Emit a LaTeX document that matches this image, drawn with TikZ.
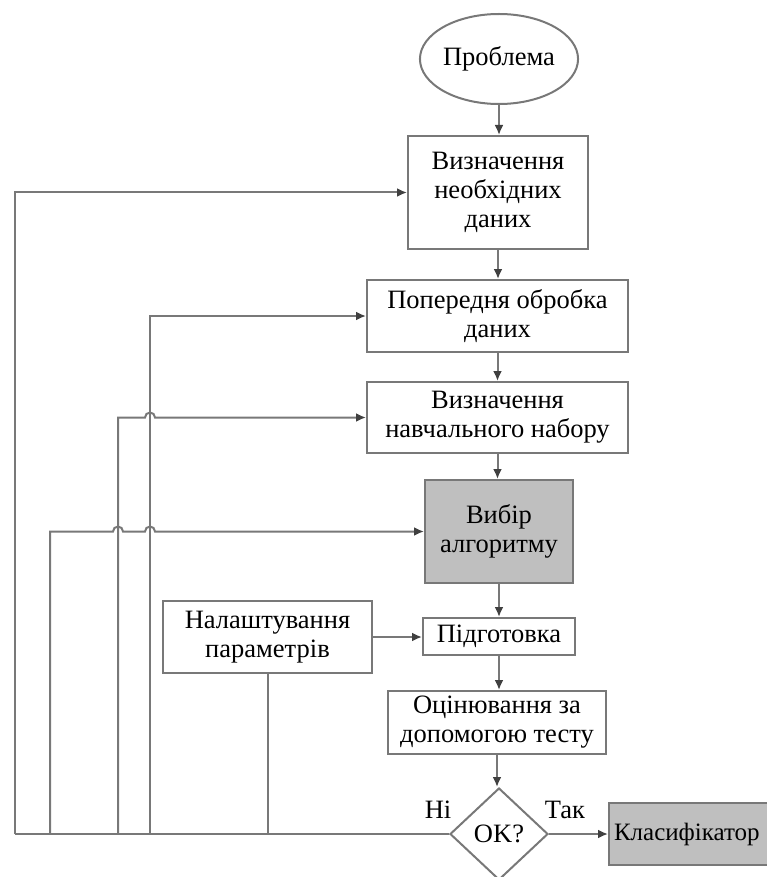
\documentclass[tikz,border=0pt]{standalone}
\usepackage{fontspec}
\setmainfont{Liberation Serif}
\usetikzlibrary{arrows.meta,shapes.geometric,calc}
\definecolor{LineClr}{rgb}{0.47,0.47,0.47}
\definecolor{BoxClr}{rgb}{0.75,0.75,0.75}

\begin{document}
\begin{tikzpicture}[x=1pt,y=-1pt,
  every node/.style={font=\fontsize{26.5}{29}\selectfont,align=center,inner sep=0pt},
  block/.style 2 args={draw=LineClr,line width=2pt,minimum width=#1pt,minimum height=#2pt},
  wire/.style={draw=LineClr,line width=2pt},
  flow/.style={wire,-{Latex[length=10pt,width=9pt,color=black!75]}}]
\useasboundingbox (0,0) rectangle (767,877);
\clip (0,0) rectangle (767,877);

% main column
\node[ellipse,draw=LineClr,line width=2pt,minimum width=146pt,minimum height=90pt] (Prob) at (499,59) {Проблема};
\node[block={180}{113}] (Need) at (498,192.5) {Визначення\\необхідних\\даних};
\node[block={261}{72}] (Prep) at (497.5,316) {Попередня обробка\\даних};
\node[block={261}{71}] (Train) at (497.5,417.5) {Визначення\\навчального набору};
\node[block={148}{103},fill=BoxClr] (Alg) at (499,531.5) {Вибір\\алгоритму};
\node[block={209}{72}] (Par) at (267.5,637) {Налаштування\\параметрів};
\node[block={152}{37}] (Fit) at (499,636.5) {Підготовка};
\node[block={218}{63}] (Test) at (497,722.5) {Оцінювання за\\допомогою тесту};
\node[diamond,draw=LineClr,line width=2pt,minimum width=98pt,minimum height=92pt] (OK) at (499,834) {OK?};
\node[draw=LineClr,line width=2pt,fill=BoxClr,anchor=west,inner xsep=5pt,minimum height=62pt,
  minimum width=180pt,text width=170pt,align=left,font=\fontsize{25}{29}\selectfont] (Cls) at (608,834) {Класифікатор};

\node (No) at (438,810) {Ні};
\node (Yes) at (565,810) {Так};

% feedback feet
\coordinate (L1) at (15,834);
\coordinate (L2) at (50,834);
\coordinate (L3) at (118,834);
\coordinate (L4) at (150,834);
\coordinate (L5) at (267.5,834);

\draw[flow] (Prob.south) -- (Prob.south|-Need.north);
\draw[flow] (Need.south) -- (Need.south|-Prep.north);
\draw[flow] (Prep.south) -- (Prep.south|-Train.north);
\draw[flow] (Train.south) -- (Train.south|-Alg.north);
\draw[flow] (Alg.south) -- (Alg.south|-Fit.north);
\draw[flow] (Fit.south) -- (Fit.south|-Test.north);
\draw[flow] (Test.south) -- (Test.south|-OK.north);
\draw[flow] (OK.east) -- (Cls.west);
\draw[flow] (Par.east) -- (Par.east-|Fit.west);

\draw[wire] (OK.west) -- (L1);
\draw[wire] (Par.south) -- (L5);
\draw[flow] (L1) |- (Need.west);
\draw[flow] (L4) |- (Prep.west);
\draw[flow] (L3) |- ($(L4|-Train.west)+(-5,0)$) arc(180:0:5pt) -- (Train.west);
\draw[flow] (L2) |- ($(L3|-Alg.west)+(-5,0)$) arc(180:0:5pt)
  -- ($(L4|-Alg.west)+(-5,0)$) arc(180:0:5pt) -- (Alg.west);
\end{tikzpicture}
\end{document}
